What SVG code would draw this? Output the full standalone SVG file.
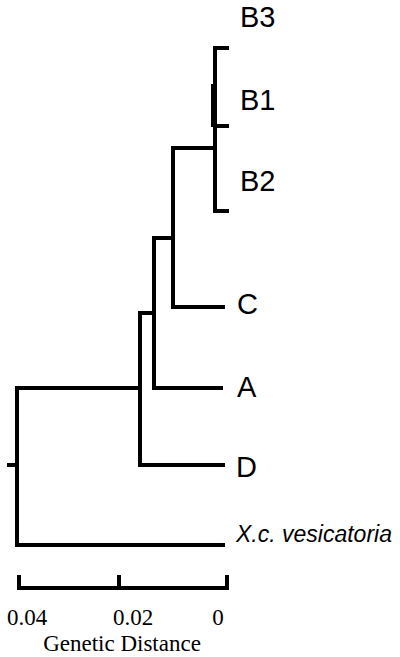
<svg xmlns="http://www.w3.org/2000/svg" width="400" height="657" viewBox="0 0 400 657">
<style>
.br{stroke:#000;stroke-width:4;fill:none;stroke-linecap:square;stroke-linejoin:miter}
.lbl{font-family:"Liberation Sans",Arial,sans-serif;font-size:29px;fill:#000}
.out{font-family:"Liberation Sans",Arial,sans-serif;font-size:23px;font-style:italic;fill:#000}
.sc{font-family:"Liberation Serif","Times New Roman",serif;font-size:23px;fill:#000}
</style>
<rect width="400" height="657" fill="#fff"/>
<g id="connectors">
<path class="br" d="M227,48 H215 V211 H227 M215,126 H227"/>
<path class="br" d="M213,86 V125"/>
<path class="br" d="M215,148 H173 V307 H223"/>
<path class="br" d="M173,238 H154 V388 H221"/>
<path class="br" d="M154,313 H140 V465 H223"/>
<path class="br" d="M140,388 H17 V545 H223"/>
<path class="br" d="M17,465 H9"/>
</g>
<g id="node-B3"><text class="lbl" x="240" y="27">B3</text></g>
<g id="node-B1"><text class="lbl" x="240" y="110">B1</text></g>
<g id="node-B2"><text class="lbl" x="240" y="191">B2</text></g>
<g id="node-C"><text class="lbl" x="237" y="314">C</text></g>
<g id="node-A"><text class="lbl" x="237" y="397">A</text></g>
<g id="node-D"><text class="lbl" x="236" y="477">D</text></g>
<g id="node-Xcv"><text class="out" x="236" y="542">X.c. vesicatoria</text></g>
<g id="scale">
<path class="br" d="M19,577 V588 H227 V577 M119,577 V588"/>
<text class="sc" x="27" y="625" text-anchor="middle">0.04</text>
<text class="sc" x="133" y="625" text-anchor="middle">0.02</text>
<text class="sc" x="218" y="625" text-anchor="middle">0</text>
<text class="sc" x="122" y="651" text-anchor="middle">Genetic Distance</text>
</g>
</svg>
